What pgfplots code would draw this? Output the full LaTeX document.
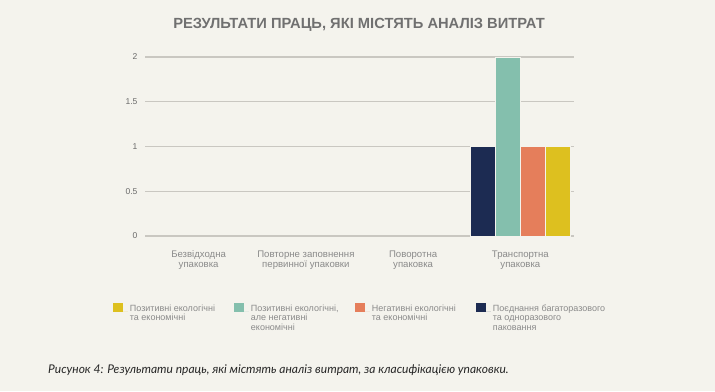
\documentclass[border=0pt]{standalone}
\usepackage{fontspec}
\setmainfont{Liberation Sans}
\newfontfamily\capfont{Lato}
\usepackage{pgfplots}
\pgfplotsset{compat=1.18}
\definecolor{bg}{HTML}{F4F3ED}
\definecolor{navy}{HTML}{1C2B52}
\definecolor{teal}{HTML}{84BFAD}
\definecolor{orng}{HTML}{E57E5B}
\definecolor{yell}{HTML}{DDC01F}
\definecolor{gridc}{HTML}{C9C7C1}
\definecolor{titleg}{HTML}{707070}
\definecolor{labg}{HTML}{8A8A8A}
\definecolor{tickg}{HTML}{6A6A6A}
\newcommand{\lgd}[2][102.5pt]{\parbox[t]{#1}{\raggedright #2}}
\begin{document}
\begin{tikzpicture}[x=1pt,y=1pt]
\fill[bg] (0,0) rectangle (715,391);
\node[font=\bfseries\fontsize{14.7}{16}\selectfont, text=titleg] at (359,366) {РЕЗУЛЬТАТИ ПРАЦЬ, ЯКІ МІСТЯТЬ АНАЛІЗ ВИТРАТ};
\node[font=\capfont\itshape\fontsize{12}{14}\selectfont, text=black!85, anchor=west, inner sep=0pt] at (48,21) {Рисунок 4: Результати праць, які містять аналіз витрат, за класифікацією упаковки.};
\begin{axis}[
  at={(145pt,155pt)}, anchor=south west,
  scale only axis, width=429pt, height=179pt,
  xmin=-0.5, xmax=3.5, ymin=0, ymax=2,
  axis line style={draw=none},
  tick style={draw=none},
  ymajorgrids, grid style={gridc, line width=1.4pt},
  ytick={0,0.5,1,1.5,2},
  /pgf/number format/assume math mode=true,
  yticklabel style={font=\fontsize{8.5}{9}\selectfont, text=tickg, xshift=-4pt},
  xtick={0,1,2,3},
  xticklabels={{Безвідходна\\упаковка},{Повторне заповнення\\первинної упаковки},{Поворотна\\упаковка},{Транспортна\\упаковка}},
  xticklabel style={font=\fontsize{9.6}{9.8}\selectfont, text=labg, align=center, yshift=-7pt},
  ybar=0pt, bar width=0.233,
  clip=false,
  legend columns=4,
  legend style={at={(-0.081,-0.359)}, anchor=north west, draw=none, fill=none,
    font=\fontsize{9}{9.5}\selectfont, text=labg,
    cells={anchor=base west},
    /tikz/every even column/.append style={column sep=0pt},
    /tikz/every odd column/.append style={column sep=0pt},
  },
  legend image code/.code={\fill[#1] (0pt,-1pt) rectangle (9.5pt,8.4pt); \path (0pt,0pt) -- (14.5pt,0pt);},
]
\addplot[fill=navy, draw=bg, line width=0.4pt, bar shift=-0.3495, forget plot] coordinates {(3,1)};
\addplot[fill=teal, draw=bg, line width=0.4pt, bar shift=-0.1165, forget plot] coordinates {(3,2)};
\addplot[fill=orng, draw=bg, line width=0.4pt, bar shift=0.1165, forget plot] coordinates {(3,1)};
\addplot[fill=yell, draw=bg, line width=0.4pt, bar shift=0.3495, forget plot] coordinates {(3,1)};
\addlegendimage{fill=yell, draw=none}
\addlegendentry{\lgd{Позитивні екологічні\\та економічні}}
\addlegendimage{fill=teal, draw=none}
\addlegendentry{\lgd{Позитивні екологічні,\\але негативні\\економічні}}
\addlegendimage{fill=orng, draw=none}
\addlegendentry{\lgd{Негативні екологічні\\та економічні}}
\addlegendimage{fill=navy, draw=none}
\addlegendentry{\lgd[120pt]{Поєднання багаторазового\\та одноразового\\паковання}}
\end{axis}
\end{tikzpicture}
\end{document}
